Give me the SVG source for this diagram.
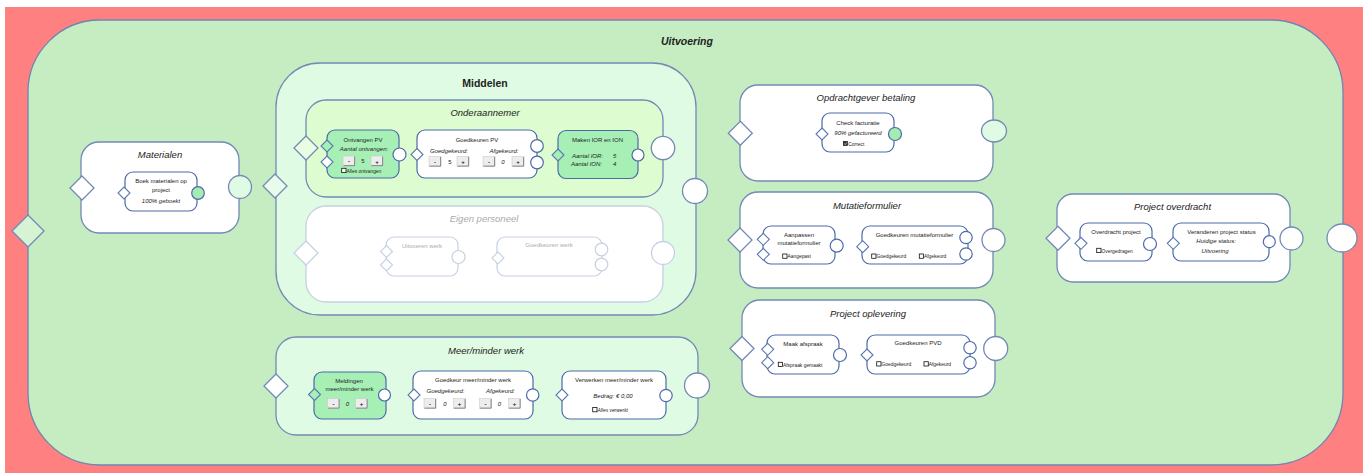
<svg xmlns="http://www.w3.org/2000/svg" xmlns:xlink="http://www.w3.org/1999/xlink" width="1371" height="473" viewBox="0 0 1371 473">
  <style>
    text { font-family: "Liberation Sans", Arial, sans-serif; fill: #222; }
    .box { fill: #fff; stroke: #7389B6; stroke-width: 1.3; }
    .node { fill: #fff; stroke: #4D6AA8; stroke-width: 1.2; }
    .node.g { fill: #A6F0B6; }
    .port { fill: #fff; }
    .port.lg { fill: #E0FBE4; }
    .port.g { fill: #A3EDB2; }
    use.ds { stroke: #5A77B0; stroke-width: 1.1; }
    use.dm { stroke: #7389B6; stroke-width: 1.3; }
    .ttl { font-size: 9.5px; font-style: italic; text-anchor: middle; }
    .nt { font-size: 6px; text-anchor: middle; }
    .ni { font-size: 6px; font-style: italic; text-anchor: middle; }
    .nl { font-size: 6px; font-style: italic; }
    .cb { font-size: 4.9px; }
    .cbi { font-size: 4.9px; font-style: italic; }
    .bt { font-size: 6px; font-weight: bold; text-anchor: middle; }
    .bv { font-size: 6px; font-style: italic; text-anchor: middle; }
    .chk { fill: #fff; stroke: #111; stroke-width: 0.8; }
    .faded .box, .faded .node, .faded use.ds, .faded use.dm { stroke: #C6D0E4; }
    .faded text { fill: #ABABAB; }
  </style>
  <defs>
    <polygon id="dS" points="0,-6 6,0 0,6 -6,0"/>
    <polygon id="dM" points="0,-12 12,0 0,12 -12,0"/>
    <polygon id="dL" points="0,-16 16,0 0,16 -16,0"/>
    <g id="btn">
      <rect x="0" y="0" width="12" height="10" fill="#EDEDED" stroke="#C4C4C4" stroke-width="0.5"/>
      <path d="M0.5,9.6 H11.6 V0.5" fill="none" stroke="#7D7D7D" stroke-width="0.9"/>
    </g>
  </defs>

  <rect x="0" y="0" width="1371" height="473" fill="#fff"/>
  <rect x="5" y="7" width="1358" height="466" fill="#FF8080"/>

  <!-- Uitvoering: outer process container -->
  <g id="uitvoering">
    <rect x="28" y="20" width="1315" height="445" rx="72" fill="#C6ECC2" stroke="#6F86B2" stroke-width="1.3"/>
    <text x="687" y="45" font-size="10.5" font-weight="bold" font-style="italic" text-anchor="middle" fill="#111">Uitvoering</text>
    <use href="#dL" class="dm" x="28" y="231" fill="#D6F3D3"/>
    <ellipse cx="1342" cy="238" rx="15" ry="14" fill="#fff" stroke="#7389B6" stroke-width="1.3"/>
  </g>

  <!-- Materialen -->
  <g id="materialen">
    <rect class="box" x="81" y="142" width="158" height="91" rx="18"/>
    <text class="ttl" x="160" y="158">Materialen</text>
    <use href="#dM" class="dm" x="82" y="188" fill="#fff"/>
    <circle class="box port lg" cx="240" cy="187" r="11.5"/>
    <g id="boek-materialen">
      <rect class="node" x="125" y="172" width="72" height="39" rx="8"/>
      <text class="nt" x="161" y="183">Boek materialen op</text>
      <text class="nt" x="161" y="191.5">project</text>
      <text class="ni" x="161" y="203">100% geboekt</text>
      <use href="#dS" class="ds" x="124" y="193" fill="#fff"/>
      <circle class="node port g" cx="198" cy="193" r="6.3"/>
    </g>
  </g>

  <!-- Middelen -->
  <g id="middelen">
    <rect x="276" y="63" width="420" height="252" rx="44" fill="#E0FBE3" stroke="#7389B6" stroke-width="1.3"/>
    <text x="485" y="87" font-size="10.5" font-weight="bold" text-anchor="middle" fill="#111">Middelen</text>
    <use href="#dM" class="dm" x="275" y="186" fill="#E9FBEA"/>
    <circle class="box port" cx="695" cy="191" r="12.5"/>
  </g>

  <!-- Onderaannemer -->
  <g id="onderaannemer">
    <rect x="306" y="100" width="357" height="97" rx="20" fill="#DDFCD0" stroke="#7389B6" stroke-width="1.3"/>
    <text class="ttl" x="485" y="116">Onderaannemer</text>
    <use href="#dM" class="dm" x="306" y="148" fill="#EAFCE2"/>
    <circle class="box port" cx="663" cy="148" r="11.7"/>
  </g>

  <g id="ontvangen-pv">
    <rect class="node g" x="327" y="130" width="72" height="48" rx="8"/>
    <text class="nt" x="363" y="141.5">Ontvangen PV</text>
    <text class="ni" x="364" y="150.5" font-size="6.4">Aantal ontvangen:</text>
    <use href="#btn" x="343" y="156"/><text class="bt" x="349" y="163">-</text>
    <text class="nt" x="363" y="163">5</text>
    <use href="#btn" x="371" y="156"/><text class="bt" x="377" y="163.5">+</text>
    <rect class="chk" x="341.7" y="168.3" width="4.3" height="4.3"/>
    <text class="cb" x="346.5" y="172.5">Alles ontvangen</text>
    <use href="#dS" class="ds" x="327" y="146" fill="#A6F0B6"/>
    <use href="#dS" class="ds" x="327" y="162" fill="#fff"/>
    <circle class="node port" cx="399.5" cy="154.5" r="6.5"/>
  </g>

  <g id="goedkeuren-pv">
    <rect class="node" x="417" y="130" width="120" height="48" rx="8"/>
    <text class="nt" x="477" y="141.5">Goedkeuren PV</text>
    <text class="ni" x="449" y="153">Goedgekeurd:</text>
    <text class="ni" x="504" y="153">Afgekeurd:</text>
    <use href="#btn" x="429" y="156.5"/><text class="bt" x="435" y="163.5">-</text>
    <text class="nt" x="450" y="164">5</text>
    <use href="#btn" x="457" y="156.5"/><text class="bt" x="463" y="164">+</text>
    <use href="#btn" x="483" y="156.5"/><text class="bt" x="489" y="163.5">-</text>
    <text class="bv" x="503" y="164">0</text>
    <use href="#btn" x="512" y="156.5"/><text class="bt" x="518" y="164">+</text>
    <use href="#dS" class="ds" x="417" y="154.5" fill="#fff"/>
    <circle class="node port" cx="537" cy="146" r="6.3"/>
    <circle class="node port" cx="537" cy="162.5" r="6.3"/>
  </g>

  <g id="maken-ior-ion">
    <rect class="node g" x="558" y="130.5" width="80" height="48" rx="8"/>
    <text class="nt" x="597.5" y="141.5">Maken IOR en ION</text>
    <text class="nl" x="572" y="157.5">Aantal IOR:</text>
    <text class="nl" x="613" y="157.5">5</text>
    <text class="nl" x="571" y="166">Aantal ION:</text>
    <text class="nl" x="613" y="166">4</text>
    <use href="#dS" class="ds" x="558" y="155" fill="#A6F0B6"/>
    <circle class="node port" cx="638" cy="155" r="6"/>
  </g>

  <!-- Eigen personeel (inactive) -->
  <g id="eigen-personeel" class="faded">
    <rect class="box" x="306" y="206" width="357" height="96" rx="20"/>
    <text class="ttl" x="484" y="222">Eigen personeel</text>
    <use href="#dM" class="dm" x="306" y="253" fill="#fff"/>
    <circle class="box port" cx="663" cy="253" r="11.5"/>
    <g id="uitvoeren-werk">
      <rect class="node" x="386" y="237" width="72" height="39" rx="8"/>
      <text class="nt" x="422" y="247.5">Uitvoeren werk</text>
      <use href="#dS" class="ds" x="386.5" y="251.5" fill="#fff"/>
      <use href="#dS" class="ds" x="386.5" y="265" fill="#fff"/>
      <circle class="node port" cx="458.5" cy="257" r="6.5"/>
    </g>
    <g id="goedkeuren-werk">
      <rect class="node" x="497" y="237" width="105" height="39" rx="8"/>
      <text class="nt" x="549" y="247">Goedkeuren werk</text>
      <use href="#dS" class="ds" x="498" y="258" fill="#fff"/>
      <circle class="node port" cx="601.5" cy="249.5" r="6.3"/>
      <circle class="node port" cx="601.5" cy="264.5" r="6.3"/>
    </g>
  </g>

  <!-- Meer/minder werk -->
  <g id="meer-minder-werk">
    <rect x="276" y="337" width="422" height="98" rx="20" fill="#E0FBE3" stroke="#7389B6" stroke-width="1.3"/>
    <text class="ttl" x="486" y="354">Meer/minder werk</text>
    <use href="#dM" class="dm" x="276" y="386" fill="#fff"/>
    <circle class="box port" cx="697" cy="385.5" r="12.5"/>
  </g>

  <g id="meldingen">
    <rect class="node g" x="314" y="372" width="72" height="47" rx="8"/>
    <text class="nt" x="349" y="382.5">Meldingen</text>
    <text class="nt" x="349.5" y="391">meer/minder werk</text>
    <use href="#btn" x="327.5" y="398.5"/><text class="bt" x="333.5" y="405.5">-</text>
    <text class="bv" x="347.5" y="406">0</text>
    <use href="#btn" x="355.5" y="398.5"/><text class="bt" x="361.5" y="406">+</text>
    <use href="#dS" class="ds" x="314.5" y="394.5" fill="#A6F0B6"/>
    <circle class="node port" cx="384.5" cy="395" r="6"/>
  </g>

  <g id="goedkeur-meer-minder">
    <rect class="node" x="413" y="371" width="120" height="48" rx="8"/>
    <text class="nt" x="473" y="382">Goedkeur meer/minder werk</text>
    <text class="ni" x="445.5" y="393" font-size="5.6">Goedgekeurd:</text>
    <text class="ni" x="500.5" y="393" font-size="5.6">Afgekeurd:</text>
    <use href="#btn" x="424" y="398.5"/><text class="bt" x="430" y="405.5">-</text>
    <text class="bv" x="445" y="406">0</text>
    <use href="#btn" x="453.5" y="398.5"/><text class="bt" x="459.5" y="406">+</text>
    <use href="#btn" x="479.5" y="398.5"/><text class="bt" x="485.5" y="405.5">-</text>
    <text class="bv" x="499.5" y="406">0</text>
    <use href="#btn" x="508.5" y="398.5"/><text class="bt" x="514.5" y="406">+</text>
    <use href="#dS" class="ds" x="414" y="395" fill="#fff"/>
    <circle class="node port" cx="532.7" cy="395" r="6.2"/>
  </g>

  <g id="verwerken-meer-minder">
    <rect class="node" x="562" y="371" width="104" height="48" rx="8"/>
    <text class="nt" x="614" y="382">Verwerken meer/minder werk</text>
    <text class="ni" x="613" y="398">Bedrag: € 0,00</text>
    <rect class="chk" x="592.7" y="407.5" width="4.3" height="4.3"/>
    <text class="cbi" x="597.5" y="412">Alles verwerkt</text>
    <use href="#dS" class="ds" x="562" y="395" fill="#fff"/>
    <circle class="node port" cx="666" cy="395.5" r="6.2"/>
  </g>

  <!-- Opdrachtgever betaling -->
  <g id="opdrachtgever-betaling">
    <rect class="box" x="740" y="85" width="253" height="96" rx="18"/>
    <text class="ttl" x="866" y="100.5">Opdrachtgever betaling</text>
    <use href="#dM" class="dm" x="740.3" y="133.3" fill="#fff"/>
    <ellipse class="box port lg" cx="994" cy="131" rx="12.5" ry="11"/>
    <g id="check-facturatie">
      <rect class="node" x="822" y="113" width="72" height="39" rx="8"/>
      <text class="nt" x="858" y="124.5">Check facturatie</text>
      <text class="ni" x="858" y="135">90% gefactureerd</text>
      <rect x="843.3" y="141.3" width="4.3" height="4.3" fill="#333" stroke="#111" stroke-width="0.6"/>
      <path d="M844.2,143.6 l1.1,1.1 l1.6,-2.3" fill="none" stroke="#fff" stroke-width="0.6"/>
      <text class="cb" x="848.3" y="145.5">Correct</text>
      <use href="#dS" class="ds" x="822" y="134" fill="#fff"/>
      <circle class="node port g" cx="895" cy="134" r="6.5"/>
    </g>
  </g>

  <!-- Mutatieformulier -->
  <g id="mutatieformulier">
    <rect class="box" x="740" y="192" width="253" height="96" rx="18"/>
    <text class="ttl" x="867" y="208.5">Mutatieformulier</text>
    <use href="#dM" class="dm" x="740" y="240" fill="#fff"/>
    <circle class="box port" cx="993.5" cy="240" r="11.5"/>
    <g id="aanpassen-mutatieformulier">
      <rect class="node" x="763" y="226" width="72" height="38" rx="8"/>
      <text class="nt" x="799" y="236.5">Aanpassen</text>
      <text class="nt" x="799" y="245">mutatieformulier</text>
      <rect class="chk" x="782.7" y="254" width="4.3" height="4.3"/>
      <text class="cb" x="787.5" y="258.2">Aangepast</text>
      <use href="#dS" class="ds" x="763.3" y="239.3" fill="#fff"/>
      <use href="#dS" class="ds" x="763.3" y="254.3" fill="#fff"/>
      <circle class="node port" cx="836.7" cy="245.7" r="6.5"/>
    </g>
    <g id="goedkeuren-mutatieformulier">
      <rect class="node" x="862" y="226" width="106" height="38" rx="8"/>
      <text class="nt" x="914.5" y="236.5">Goedkeuren mutatieformulier</text>
      <rect class="chk" x="871.7" y="254" width="4.3" height="4.3"/>
      <text class="cb" x="876.5" y="258.2">Goedgekeurd</text>
      <rect class="chk" x="919.3" y="254" width="4.3" height="4.3"/>
      <text class="cb" x="924" y="258.2">Afgekeurd</text>
      <use href="#dS" class="ds" x="862.7" y="246.7" fill="#fff"/>
      <circle class="node port" cx="966" cy="237.5" r="6.2"/>
      <circle class="node port" cx="966" cy="254" r="6.2"/>
    </g>
  </g>

  <!-- Project oplevering -->
  <g id="project-oplevering">
    <rect class="box" x="742" y="300" width="253" height="97" rx="18"/>
    <text class="ttl" x="868" y="317">Project oplevering</text>
    <use href="#dM" class="dm" x="742" y="348.5" fill="#fff"/>
    <circle class="box port" cx="995.7" cy="348.5" r="12"/>
    <g id="maak-afspraak">
      <rect class="node" x="767" y="335" width="72" height="39" rx="8"/>
      <text class="nt" x="803" y="346">Maak afspraak</text>
      <rect class="chk" x="778.3" y="362.3" width="4.3" height="4.3"/>
      <text class="cb" x="783" y="366.5">Afspraak gemaakt</text>
      <use href="#dS" class="ds" x="767.7" y="349.3" fill="#fff"/>
      <use href="#dS" class="ds" x="767.7" y="362.7" fill="#fff"/>
      <circle class="node port" cx="840" cy="355" r="6.5"/>
    </g>
    <g id="goedkeuren-pvd">
      <rect class="node" x="867" y="335" width="103" height="39" rx="8"/>
      <text class="nt" x="918" y="344.5">Goedkeuren PVD</text>
      <rect class="chk" x="876.7" y="361.7" width="4.3" height="4.3"/>
      <text class="cb" x="881.5" y="365.8">Goedgekeurd</text>
      <rect class="chk" x="924" y="361.7" width="4.3" height="4.3"/>
      <text class="cb" x="928.7" y="365.8">Afgekeurd</text>
      <use href="#dS" class="ds" x="867" y="355" fill="#fff"/>
      <circle class="node port" cx="970" cy="347.7" r="6.2"/>
      <circle class="node port" cx="970" cy="362.7" r="6.2"/>
    </g>
  </g>

  <!-- Project overdracht -->
  <g id="project-overdracht">
    <rect class="box" x="1057" y="194" width="233" height="88" rx="16"/>
    <text class="ttl" x="1172.5" y="210">Project overdracht</text>
    <use href="#dM" class="dm" x="1058" y="238.3" fill="#fff"/>
    <circle class="box port" cx="1291.5" cy="238.5" r="11.5"/>
    <g id="overdracht-project">
      <rect class="node" x="1080" y="223" width="72" height="38" rx="8"/>
      <text class="nt" x="1116" y="234">Overdracht project</text>
      <rect class="chk" x="1096.7" y="248.3" width="4.3" height="4.3"/>
      <text class="cb" x="1101.5" y="252.5">Overgedragen</text>
      <use href="#dS" class="ds" x="1081" y="243.3" fill="#fff"/>
      <circle class="node port" cx="1150" cy="244" r="6.5"/>
    </g>
    <g id="veranderen-project-status">
      <rect class="node" x="1173" y="223" width="96" height="38" rx="8"/>
      <text class="nt" x="1221.5" y="234">Veranderen project status</text>
      <text class="ni" x="1216" y="243">Huidige status:</text>
      <text class="ni" x="1215" y="252.5">Uitvoering</text>
      <use href="#dS" class="ds" x="1173.3" y="243.3" fill="#fff"/>
      <circle class="node port" cx="1269.3" cy="241.7" r="6"/>
    </g>
  </g>

  <!-- connectors: none, ports are placed on the container borders -->
  <g id="connectors"/>
</svg>
